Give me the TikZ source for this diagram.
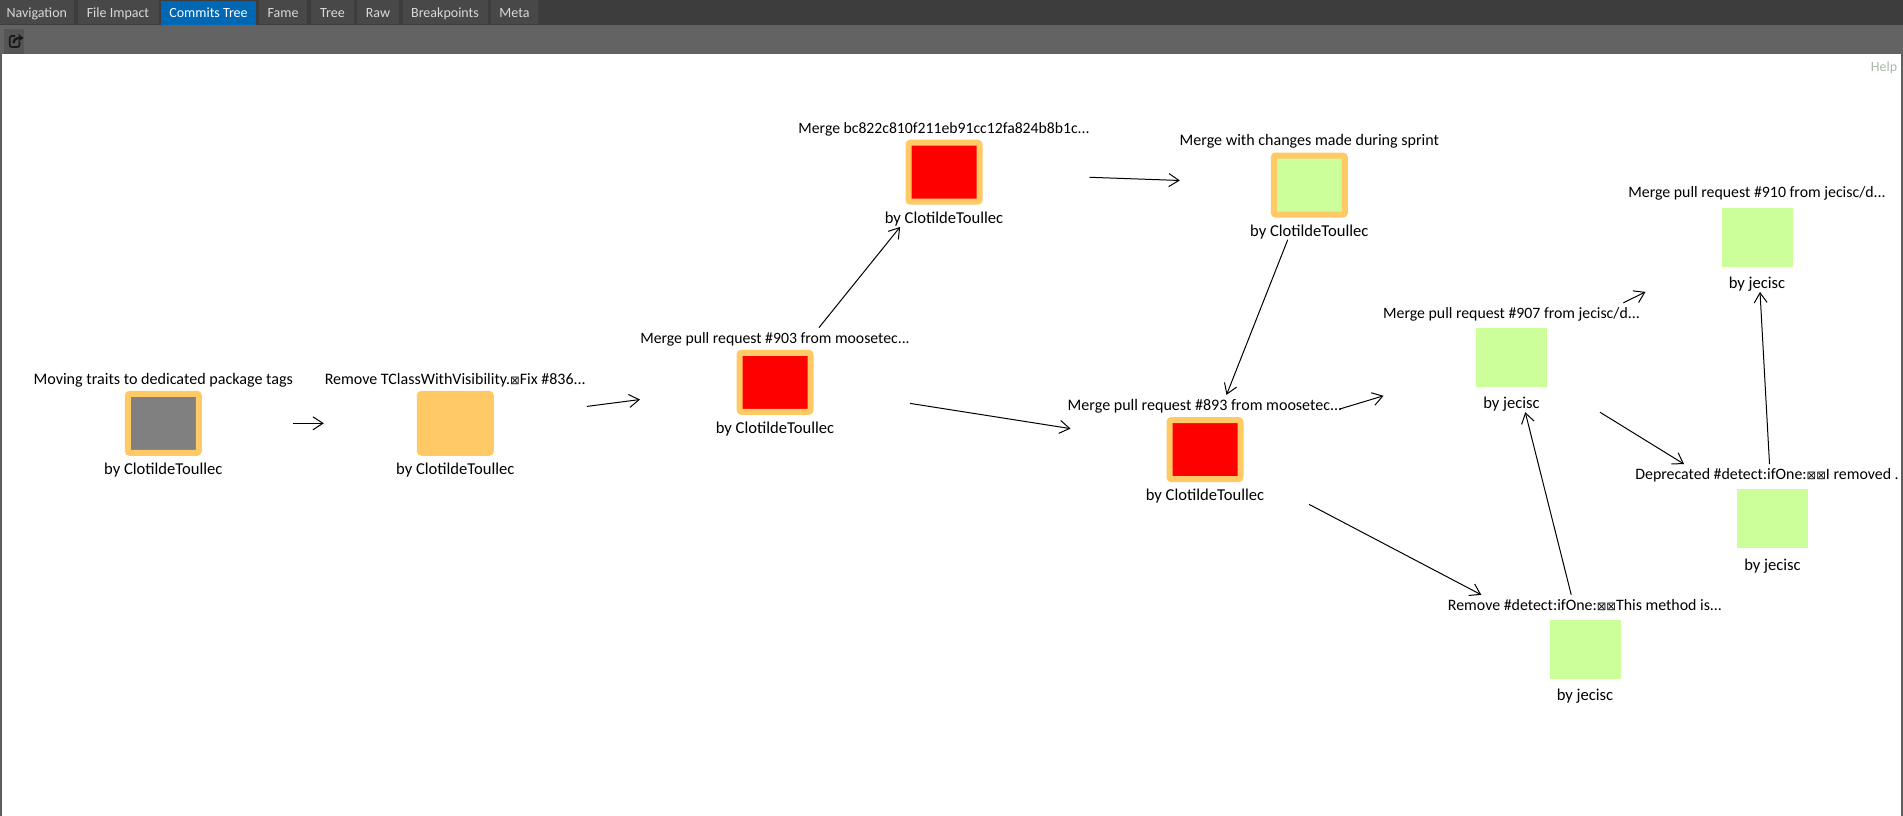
\documentclass[tikz,border=0pt]{standalone}
\usepackage{fontspec}
\setmainfont{Carlito}
\newfontfamily\symfont{DejaVu Sans}
\usetikzlibrary{arrows.meta}
\newcommand{\nochar}{{\symfont\fontsize{11.5}{10}\selectfont ⊠}}
\definecolor{barcol}{HTML}{3D3D3D}
\definecolor{tabcol}{HTML}{484848}
\definecolor{toolcol}{HTML}{636363}
\definecolor{iconcol}{HTML}{555555}
\definecolor{sidecol}{HTML}{5E5E5E}
\definecolor{helpcol}{HTML}{ABB7AB}
\definecolor{activecol}{HTML}{0067B5}
\definecolor{edgecol}{HTML}{FFC966}
\definecolor{okcol}{HTML}{CCFF99}
\tikzset{
  tab/.style={minimum height=24, inner sep=0, fill=tabcol, text=white!85!black, text height=12pt, text depth=.6pt, font=\fontsize{14}{16}\selectfont},
  frame/.style={minimum height=109.4, inner sep=0, outer sep=0},
  commit/.style={minimum width=71, minimum height=59, inner sep=0, fill=okcol},
  marked/.style={commit, draw=edgecol, line width=6pt, rounded corners=2pt},
  titletext/.style={anchor=center, yshift=-12.4, inner sep=0, text height=10pt, text depth=3.5pt, font=\fontsize{#1}{18}\selectfont},
  titletext/.default=16.1,
  authortext/.style={anchor=center, yshift=6.7, inner sep=0, text height=10pt, text depth=3.5pt, font=\fontsize{16.6}{18}\selectfont},
  link/.style={-{Straight Barb[length=10pt,width=13pt]}, line width=1pt},
}
\begin{document}
\begin{tikzpicture}[x=1pt,y=-1pt]
\useasboundingbox (0,0) rectangle (1903,816);
% window
\fill[barcol] (0,0) rectangle (1903,25);
\fill[toolcol] (0,25) rectangle (1903,54);
\node[tab, minimum width=75, text width=60, align=center] (navigation) at (36.5,12) {Navigation};
\node[tab, minimum width=81] (fileimpact) at (118,12) {File Impact};
\node[tab, minimum width=95, fill=activecol, text=white, text height=10.4pt] (commitstree) at (208.5,13) {Commits Tree};
\node[tab, minimum width=48] (fame) at (283,12) {Fame};
\node[tab, minimum width=43] (tree) at (332.5,12) {Tree};
\node[tab, minimum width=42] (raw) at (378,12) {Raw};
\node[tab, minimum width=85] (breakpoints) at (445,12) {Breakpoints};
\node[tab, minimum width=47] (meta) at (514.5,12) {Meta};
\node[minimum width=20, minimum height=25, inner sep=0, fill=iconcol] (export) at (14,41.5) {};
\draw[line width=1.7pt, rounded corners=2pt, color=black!90] (19.5,42) -- (19.5,47) -- (9.8,47) -- (9.8,36) -- (15,36);
\draw[-{Stealth[length=5.5pt,width=8.5pt]}, line width=2.4pt, color=black!90] (13.5,43) .. controls (14,39.5) and (16,38) .. (23.5,38);
\node[inner sep=0, text=helpcol, font=\fontsize{14}{16}\selectfont] (help) at (1884,68) {Help};
% commits
\node[frame, minimum width=260, label={[titletext]above:Moving traits to dedicated package tags}, label={[authortext]below:by ClotildeToullec}] (moving) at (163.3,423.3) {};
\node[marked, fill=gray] (movingbox) at (moving) {};
\node[frame, minimum width=263, label={[titletext=16]above:Remove TClassWithVisibility.\nochar Fix \#836...}, label={[authortext]below:by ClotildeToullec}] (tclass) at (455.3,423.3) {};
\node[marked, fill=edgecol] (tclassbox) at (tclass) {};
\node[frame, minimum width=270, label={[titletext=15.75]above:Merge pull request \#903 from moosetec...}, label={[authortext]below:by ClotildeToullec}] (pr903) at (775,382.3) {};
\node[marked, fill=red] (pr903box) at (pr903) {};
\node[frame, minimum width=291, label={[titletext=15.7]above:Merge bc822c810f211eb91cc12fa824b8b1c...}, label={[authortext]below:by ClotildeToullec}] (bc822) at (944,172.2) {};
\node[marked, fill=red] (bc822box) at (bc822) {};
\node[frame, minimum width=259, label={[titletext=16.05]above:Merge with changes made during sprint}, label={[authortext]below:by ClotildeToullec}] (sprint) at (1309.3,185) {};
\node[marked] (sprintbox) at (sprint) {};
\node[frame, minimum width=269, label={[titletext=16.05]above:Merge pull request \#893 from moosetec...}, label={[authortext]below:by ClotildeToullec}] (pr893) at (1205,449.6) {};
\node[marked, fill=red] (pr893box) at (pr893) {};
\node[frame, minimum width=256, label={[titletext=15.8]above:Merge pull request \#907 from jecisc/d...}, label={[authortext]below:by jecisc}] (pr907) at (1511.5,357.5) {};
\node[commit] (pr907box) at (pr907) {};
\node[frame, minimum width=256, label={[titletext=15.85, yshift=1]above:Merge pull request \#910 from jecisc/d...}, label={[authortext]below:by jecisc}] (pr910) at (1757,237.2) {};
\node[commit] (pr910box) at (pr910) {};
\node[frame, minimum width=273, label={[titletext=15.9, xshift=-5.5]above:Deprecated \#detect:ifOne:\nochar\nochar I removed .}, label={[authortext]below:by jecisc}] (deprecated) at (1772.5,518.8) {};
\node[commit] (deprecatedbox) at (deprecated) {};
\node[frame, minimum width=277, label={[titletext=15.9]above:Remove \#detect:ifOne:\nochar\nochar This method is...}, label={[authortext]below:by jecisc}] (removeone) at (1585,649.5) {};
\node[commit] (removeonebox) at (removeone) {};
% links
\draw[link] (moving) -- (tclass);
\draw[link] (tclass) -- (pr903);
\draw[link] (pr903) -- (bc822);
\draw[link] (pr903) -- (pr893);
\draw[link] (bc822) -- (sprint);
\draw[link] (sprint) -- (pr893);
\draw[link] (pr893) -- (pr907);
\draw[link] (pr893) -- (removeone);
\draw[link] (removeone) -- (pr907);
\draw[link] (pr907) -- (pr910);
\draw[link] (pr907) -- (deprecated);
\draw[link] (deprecated) -- (pr910);
% window sides
\fill[sidecol] (0,54) rectangle (2,816);
\fill[sidecol] (1901,54) rectangle (1903,816);
\end{tikzpicture}
\end{document}
